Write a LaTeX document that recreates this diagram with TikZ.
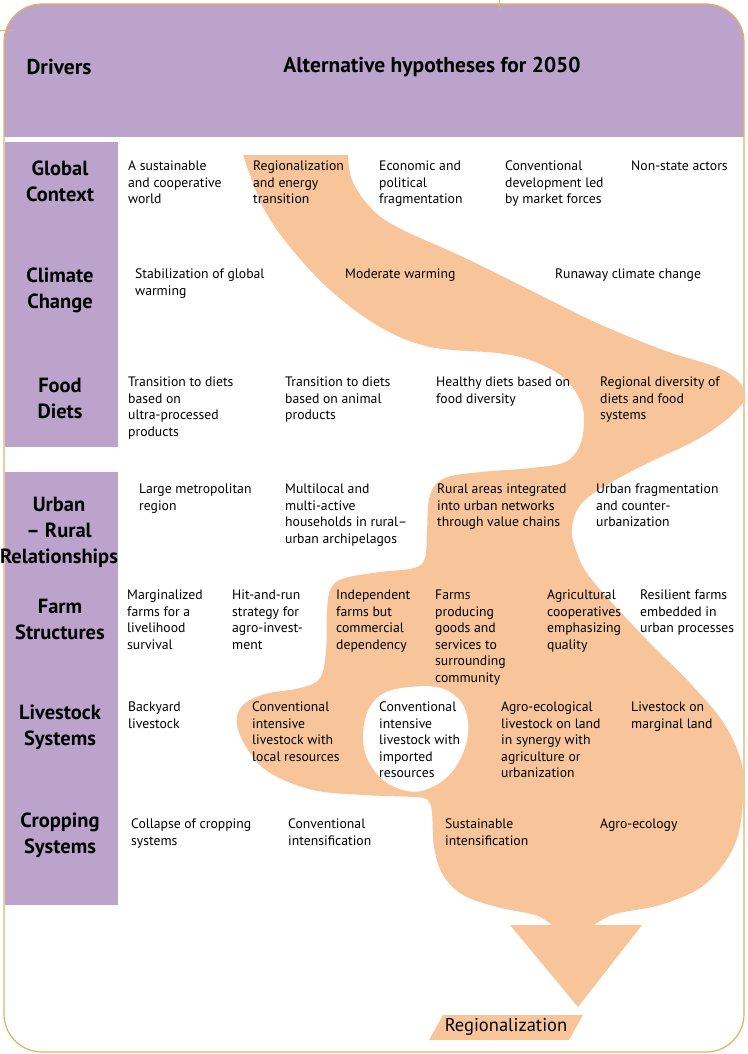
\documentclass[tikz,border=0pt]{standalone}
\usepackage{fontspec}
\setmainfont{PT Sans}
\usepackage{tikz}

\definecolor{lavender}{RGB}{187,163,204}
\definecolor{peach}{RGB}{248,197,155}
\definecolor{framegold}{RGB}{228,176,96}

\begin{document}
\begin{tikzpicture}[x=1pt,y=-1pt,
  hyp/.style={anchor=north west,align=left,inner sep=0pt,
    font=\fontsize{13.7}{16.5}\selectfont},
  driver/.style={align=center,inner sep=0pt,
    font=\bfseries\fontsize{20.5}{26}\selectfont},
  head/.style={inner sep=0pt,font=\bfseries\fontsize{21.5}{24}\selectfont}]

  \useasboundingbox (0,0) rectangle (747,1054);

  % frame and header band
  \begin{scope}
    \clip[rounded corners=38] (4,4) rectangle (744,1052);
    \fill[lavender] (0,0) rectangle (747,137);
  \end{scope}
  \draw[framegold,line width=1.2pt,rounded corners=38] (4,4) rectangle (744,1052);
  \draw[framegold,line width=1pt] (0,31) -- (13,31);
  \draw[framegold,line width=1pt] (499,0) -- (499,10);

  % driver columns
  \fill[lavender] (5,142) rectangle (118,447);
  \fill[lavender] (5,472) rectangle (118,905);

  % the regionalization pathway
  \fill[peach] (243,155) -- plot[smooth,tension=0.6] coordinates {
      (348,155) (352,180) (370,207) (397,227) (463,257) (530,290)
      (597,323) (663,350) (723,370) (745,392) (735,412) (700,438)
      (650,462) (610,483) (582,503) (572,527) (576,550) (592,580)
      (647,640) (690,683) (725,725) (742,765) (743,800) (738,835)
      (725,862) (700,888) (660,905) (615,914) (594,925)}
    -- (642,925) -- (578,1007) -- (510,925)
    -- plot[smooth,tension=0.6] coordinates {
      (552,925) (535,915) (497,907) (463,895) (443,875) (434,847)
      (432,813) (428,800) (413,797) (363,795) (313,790) (270,773)
      (248,750) (237,725) (242,706) (265,694) (300,688) (320,678)
      (326,650) (327,610) (331,588) (345,578) (380,572) (414,568)
      (425,558) (427,530) (430,495) (445,478) (481,472) (531,468)
      (565,462) (580,445) (584,420) (580,400) (563,377) (530,360)
      (497,353) (430,347) (380,327) (330,290) (290,247) (263,207)
      (243,155)}
    -- cycle;
  \fill[white] plot[smooth cycle,tension=0.7] coordinates {
      (410,687) (450,692) (468,722) (458,763) (430,788) (400,789)
      (374,770) (363,737) (375,700)};
  \fill[peach] (443,1015) -- (583,1015) -- (569,1040) -- (429,1040) -- cycle;

  % header
  \node[head] (hdrv) at (59,67) {Drivers};
  \node[head] (htitle) at (432,67) {Alternative hypotheses for 2050};

  % drivers
  \node[driver] (dgc) at (60,181) {Global\\Context};
  \node[driver] (dcc) at (60,290) {Climate\\Change};
  \node[driver] (dfd) at (60,398) {Food\\Diets};
  \node[driver] (dur) at (59,532) {Urban\\-- Rural\\Relationships};
  \node[driver] (dfs) at (60,619) {Farm\\Structures};
  \node[driver] (dls) at (60,727) {Livestock\\Systems};
  \node[driver] (dcs) at (60,835) {Cropping\\Systems};

  % global context
  \node[hyp] (gc1) at (128,161) {A sustainable\\and cooperative\\world};
  \node[hyp] (gc2) at (253,161) {Regionalization\\and energy\\transition};
  \node[hyp] (gc3) at (379,161) {Economic and\\political\\fragmentation};
  \node[hyp] (gc4) at (505,161) {Conventional\\development led\\by market forces};
  \node[hyp] (gc5) at (631,161) {Non-state actors};

  % climate change
  \node[hyp] (cc1) at (135,269) {Stabilization of global\\warming};
  \node[hyp] (cc2) at (345,269) {Moderate warming};
  \node[hyp] (cc3) at (555,269) {Runaway climate change};

  % food diets
  \node[hyp] (fd1) at (128,377) {Transition to diets\\based on\\ultra-processed\\products};
  \node[hyp] (fd2) at (285,377) {Transition to diets\\based on animal\\products};
  \node[hyp] (fd3) at (436,377) {Healthy diets based on\\food diversity};
  \node[hyp] (fd4) at (600,377) {Regional diversity of\\diets and food\\systems};

  % urban - rural relationships
  \node[hyp] (ur1) at (139,484) {Large metropolitan\\region};
  \node[hyp] (ur2) at (285,484) {Multilocal and\\multi-active\\households in rural--\\urban archipelagos};
  \node[hyp] (ur3) at (437,484) {Rural areas integrated\\into urban networks\\through value chains};
  \node[hyp] (ur4) at (596,484) {Urban fragmentation\\and counter-\\urbanization};

  % farm structures
  \node[hyp] (fs1) at (127,590) {Marginalized\\farms for a\\livelihood\\survival};
  \node[hyp] (fs2) at (232,590) {Hit-and-run\\strategy for\\agro-invest-\\ment};
  \node[hyp] (fs3) at (336,590) {Independent\\farms but\\commercial\\dependency};
  \node[hyp] (fs4) at (435,590) {Farms\\producing\\goods and\\services to\\surrounding\\community};
  \node[hyp] (fs5) at (547,590) {Agricultural\\cooperatives\\emphasizing\\quality};
  \node[hyp] (fs6) at (640,590) {Resilient farms\\embedded in\\urban processes};

  % livestock systems
  \node[hyp] (ls1) at (128,702) {Backyard\\livestock};
  \node[hyp] (ls2) at (252,702) {Conventional\\intensive\\livestock with\\local resources};
  \node[hyp] (ls3) at (379,702) {Conventional\\intensive\\livestock with\\imported\\resources};
  \node[hyp] (ls4) at (501,702) {Agro-ecological\\livestock on land\\in synergy with\\agriculture or\\urbanization};
  \node[hyp] (ls5) at (631,702) {Livestock on\\marginal land};

  % cropping systems
  \node[hyp] (cs1) at (131,819) {Collapse of cropping\\systems};
  \node[hyp] (cs2) at (288,819) {Conventional\\intensification};
  \node[hyp] (cs3) at (445,819) {Sustainable\\intensification};
  \node[hyp] (cs4) at (600,819) {Agro-ecology};

  \node[inner sep=0pt,font=\fontsize{18.5}{22}\selectfont] (result) at (506,1027) {Regionalization};
\end{tikzpicture}
\end{document}
